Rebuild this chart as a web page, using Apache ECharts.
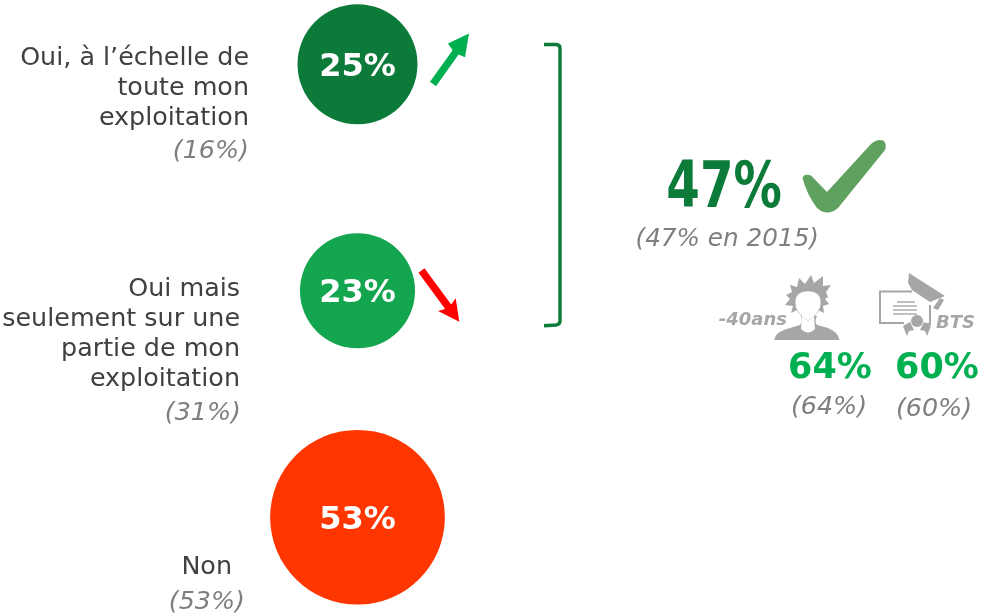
<!DOCTYPE html>
<html><head><meta charset="utf-8">
<style>html,body{margin:0;padding:0;background:#fff}#c{width:981px;height:615px}</style>
<script src="https://cdn.jsdelivr.net/npm/echarts@6/dist/echarts.min.js"></script></head>
<body><div id="c"></div>
<script>
const categories = ['Oui, à l’échelle de toute mon exploitation', 'Oui mais seulement sur une partie de mon exploitation', 'Non'];
const values = [25, 23, 53];
const previous = [16, 31, 53];
const colors = ['#0c7a39', '#13a64e', '#ff3600'];
const categoryLines = [['Oui, à l’échelle de', 'toute mon', 'exploitation'], ['Oui mais', 'seulement sur une', 'partie de mon', 'exploitation'], ['Non']];
const totalYes = 47, totalYesPrevious = 47;
const subgroupLabels = ['-40ans', 'BTS'];
const subgroupValues = [64, 60];
const subgroupPrevious = [64, 60];

const FONT = '"DejaVu Sans", Verdana, sans-serif';
const T = (text, x, y, size, fill, align, prefix) => ({
  type: 'text', x, y,
  style: { text, fill, font: (prefix ? prefix + ' ' : '') + size + 'px ' + FONT, textAlign: align, textVerticalAlign: 'middle' }
});
let pathCount = 0;
const P = (pathData, style) => {
  const name = 'decor' + (pathCount++);
  echarts.graphic.registerShape(name, echarts.graphic.extendPath(pathData, {}));
  return { type: name, style };
};
const GREY = '#7f7f7f', DARK = '#404040', ICON = '#a6a6a6', DEEP = '#0c7a39', BRIGHT = '#00b050';

const layouts = [
  { right: 249, ys: [58, 88, 118], py: 151 },
  { right: 240, ys: [289, 319, 349, 379], py: 413, pright: 241 },
  { right: 232, ys: [567], py: 602, pright: 245 }
];
const graphics = [];
categoryLines.forEach((lines, i) => {
  const l = layouts[i];
  lines.forEach((s, j) => graphics.push(T(s, l.right, l.ys[j], 25.4, DARK, 'right')));
  graphics.push(T('(' + previous[i] + '%)', l.pright || l.right, l.py, 25.4, GREY, 'right', 'italic'));
});
// evolution arrows
graphics.push({ type: 'polygon', shape: { points: [[430,81.8],[452.6,50.2],[448,43.5],[469,33.5],[465,57.3],[458.6,54.6],[436,86.2]] }, style: { fill: BRIGHT } });
graphics.push({ type: 'polygon', shape: { points: [[418.5,272.7],[424.5,268.3],[451.2,304.5],[455.7,298.3],[459.3,321.7],[438,311],[445.2,308.9]] }, style: { fill: '#ff0000' } });
// bracket
graphics.push(P('M544,44.5 L556,44.5 Q560,44.8 560,48 L560,321 Q560,324.5 556,325 L544,325.7', { fill: 'none', stroke: DEEP, lineWidth: 3.4 }));
// total
graphics.push({ type: 'text', x: 782, y: 190, scaleX: 0.755, originX: 0, originY: 0, style: { text: totalYes + '%', fill: DEEP, font: 'bold 64px ' + FONT, textAlign: 'right', textVerticalAlign: 'middle' } });
graphics.push(P('M802.5,178 Q804,173 811,175.5 L827,192 L871,144 Q878,138 884,141 Q887,145 885,150 L838,208 Q827,217 817,208 Q807,195 802.5,178 Z', { fill: '#5fa25f' }));
graphics.push(T('(' + totalYesPrevious + '% en 2015)', 819, 240, 24.7, GREY, 'right', 'italic'));
// person icon
graphics.push({ type: 'polygon', shape: { points: [[790,285],[797,287],[799,278],[805,284],[811,275],[814,283],[823,276],[823,286],[831,285],[826,292],[828,297],[825,299],[829,304],[823,306],[824,313],[818,310],[797,310],[791,313],[793,306],[785,305],[790,299],[786,295],[792,292]] }, style: { fill: ICON } });
graphics.push(P('M774,340 Q776,331 790,328 L800,325 Q803,322 801,316 L817,316 Q814,322 817,325 L828,328 Q838,332 839.5,340 Z', { fill: ICON }));
graphics.push(P('M795,303 Q795,291 808,291 Q821,291 821,303 Q821,312 808,321 Q795,312 795,303 Z', { fill: '#fff', stroke: ICON, lineWidth: 0.6 }));
graphics.push(P('M802,316 L808,321 L814,316 L815,329 Q808,336 801,329 Z', { fill: '#fff' }));
// diploma icon
graphics.push(P('M912,291.5 L880,291.5 L880,323 L904,323 M930,305 L930,324 L925,324', { fill: 'none', stroke: ICON, lineWidth: 2 }));
[302, 306, 310, 314].forEach((y, i) => graphics.push({ type: 'line', shape: { x1: i === 0 ? 897 : 893, y1: y, x2: i === 0 ? 915 : 917, y2: y }, style: { stroke: ICON, lineWidth: 1.4 } }));
graphics.push({ type: 'polygon', shape: { points: [[909,273],[945,296],[930,302],[912,290],[908,283]] }, style: { fill: ICON } });
graphics.push({ type: 'polygon', shape: { points: [[940,298],[944,300],[938,310],[933,308]] }, style: { fill: ICON } });
graphics.push({ type: 'circle', shape: { cx: 917, cy: 321, r: 6 }, style: { fill: ICON } });
graphics.push({ type: 'polygon', shape: { points: [[903,326],[910,322],[914,330],[909,331],[907,336]] }, style: { fill: ICON } });
graphics.push({ type: 'polygon', shape: { points: [[931,326],[924,322],[920,330],[925,331],[927,336]] }, style: { fill: ICON } });
// subgroup text
graphics.push(T(subgroupLabels[0], 787, 320, 18, ICON, 'right', 'italic bold'));
graphics.push(T(subgroupLabels[1], 975, 323, 18, ICON, 'right', 'italic bold'));
graphics.push(T(subgroupValues[0] + '%', 830, 369, 35, BRIGHT, 'center', 'bold'));
graphics.push(T(subgroupValues[1] + '%', 937, 369, 35, BRIGHT, 'center', 'bold'));
graphics.push(T('(' + subgroupPrevious[0] + '%)', 829, 407, 25.4, GREY, 'center', 'italic'));
graphics.push(T('(' + subgroupPrevious[1] + '%)', 934, 409, 25.4, GREY, 'center', 'italic'));

const chart = echarts.init(document.getElementById('c'), null, { renderer: 'canvas' });
chart.setOption({
  animation: false,
  backgroundColor: '#fff',
  grid: { left: 0, width: 715, top: -49, height: 679.5, outerBoundsMode: 'none' },
  xAxis: { type: 'category', data: ['Réponse'], show: false },
  yAxis: { type: 'category', data: categories, inverse: true, show: false },
  graphic: graphics,
  series: [{
    type: 'scatter',
    data: values.map((v, i) => ({ value: [0, i, v], itemStyle: { color: colors[i], opacity: 1 } })),
    symbolSize: d => 24 * Math.sqrt(d[2]),
    label: { show: true, position: 'inside', offset: [0, 3], formatter: p => p.value[2] + '%', color: '#fff', fontFamily: FONT, fontWeight: 'bold', fontSize: 32 },
    emphasis: { disabled: true }
  }]
});
</script></body></html>
